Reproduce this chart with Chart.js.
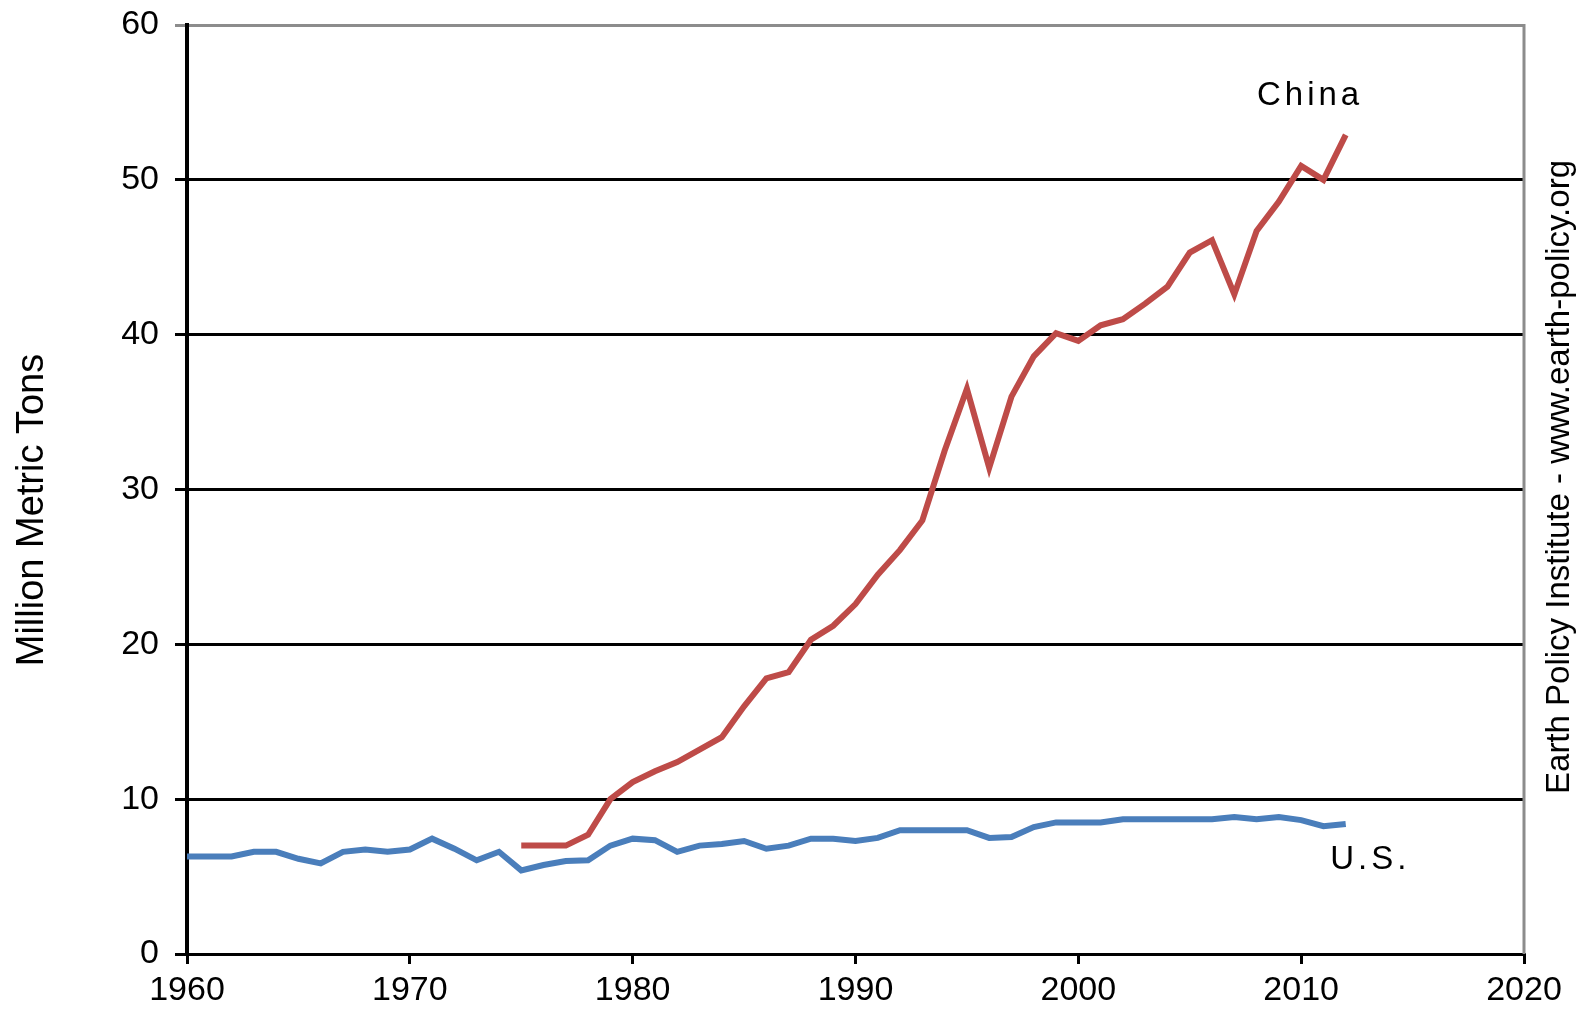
<!DOCTYPE html>
<html>
<head>
<meta charset="utf-8">
<script src="https://cdn.jsdelivr.net/npm/chart.js@4/dist/chart.umd.min.js"></script>
<style>
  html, body { margin: 0; padding: 0; background: #ffffff; }
  canvas { display: block; }
</style>
</head>
<body>
<canvas id="c" width="1583" height="1010"></canvas>
<script>
const usYears = [1960,1961,1962,1963,1964,1965,1966,1967,1968,1969,1970,1971,1972,1973,1974,1975,1976,1977,1978,1979,1980,1981,1982,1983,1984,1985,1986,1987,1988,1989,1990,1991,1992,1993,1994,1995,1996,1997,1998,1999,2000,2001,2002,2003,2004,2005,2006,2007,2008,2009,2010,2011,2012];
const usValues = [6.3,6.3,6.3,6.6,6.6,6.15,5.85,6.6,6.75,6.6,6.75,7.45,6.8,6.05,6.6,5.4,5.75,6.0,6.05,7.0,7.45,7.35,6.6,7.0,7.1,7.3,6.8,7.0,7.45,7.45,7.3,7.5,8.0,8.0,8.0,8.0,7.5,7.55,8.2,8.5,8.5,8.5,8.7,8.7,8.7,8.7,8.7,8.85,8.7,8.85,8.65,8.25,8.4];
const chinaYears = [1975,1976,1977,1978,1979,1980,1981,1982,1983,1984,1985,1986,1987,1988,1989,1990,1991,1992,1993,1994,1995,1996,1997,1998,1999,2000,2001,2002,2003,2004,2005,2006,2007,2008,2009,2010,2011,2012];
const chinaValues = [7.0,7.0,7.0,7.7,10.0,11.1,11.8,12.4,13.2,14.0,16.0,17.8,18.2,20.3,21.2,22.6,24.5,26.1,28.0,32.5,36.5,31.4,36.0,38.6,40.1,39.6,40.6,41.0,42.0,43.1,45.3,46.1,42.6,46.7,48.6,50.9,50.0,52.9];
const xTicks = [1960,1970,1980,1990,2000,2010,2020];
const yTicks = [0,10,20,30,40,50,60];
const seriesNames = ["China", "U.S."];
const yTitle = "Million Metric Tons";
const sourceText = "Earth Policy Institute - www.earth-policy.org";

const FONT = "'Liberation Sans', Arial, sans-serif";

const toPts = (xs, ys) => xs.map((x, i) => ({ x: x, y: ys[i] }));

const annotPlugin = {
  id: 'annot',
  afterDraw(chart) {
    const ctx = chart.ctx;
    const ca = chart.chartArea;
    const xs = chart.scales.x, ys = chart.scales.y;
    ctx.save();
    // right border (gray)
    ctx.strokeStyle = '#8c8c8c';
    ctx.lineWidth = 3;
    ctx.beginPath();
    ctx.moveTo(ca.right, ca.top - 1);
    ctx.lineTo(ca.right, ca.bottom);
    ctx.stroke();

    ctx.fillStyle = '#000000';
    ctx.textAlign = 'center';
    ctx.textBaseline = 'middle';
    // series labels
    try { ctx.letterSpacing = '4px'; } catch (e) {}
    ctx.font = '33px ' + FONT;
    ctx.fillText(seriesNames[0], xs.getPixelForValue(2010.4), ys.getPixelForValue(55.4));
    ctx.fillText(seriesNames[1], xs.getPixelForValue(2013.1), ys.getPixelForValue(6.1));
    try { ctx.letterSpacing = '0px'; } catch (e) {}

    // y title
    ctx.save();
    ctx.translate(33, 510);
    ctx.rotate(-Math.PI / 2);
    ctx.font = '38px ' + FONT;
    ctx.fillText(yTitle, 0, 0);
    ctx.restore();

    // source text
    ctx.save();
    ctx.translate(1560, 477);
    ctx.rotate(-Math.PI / 2);
    ctx.font = '33px ' + FONT;
    ctx.fillText(sourceText, 0, 0);
    ctx.restore();
    ctx.restore();
  }
};

new Chart(document.getElementById('c'), {
  type: 'line',
  data: {
    datasets: [
      {
        label: seriesNames[1],
        data: toPts(usYears, usValues),
        borderColor: '#4a7ebb',
        borderWidth: 6,
        pointRadius: 0,
        tension: 0,
        fill: false
      },
      {
        label: seriesNames[0],
        data: toPts(chinaYears, chinaValues),
        borderColor: '#be4b48',
        borderWidth: 6,
        pointRadius: 0,
        tension: 0,
        fill: false
      }
    ]
  },
  options: {
    responsive: false,
    animation: false,
    devicePixelRatio: 1,
    layout: { padding: { top: 25, right: 59, left: 0, bottom: 0 } },
    plugins: { legend: { display: false }, tooltip: { enabled: false } },
    scales: {
      x: {
        type: 'linear',
        min: 1960,
        max: 2020,
        afterFit(scale) { scale.height = 56; },
        afterBuildTicks(scale) { scale.ticks = xTicks.map(v => ({ value: v })); },
        ticks: {
          color: '#000000',
          font: { family: FONT, size: 34 },
          padding: 6,
          maxRotation: 0,
          autoSkip: false,
          callback: v => String(v)
        },
        grid: {
          display: true,
          drawOnChartArea: false,
          drawTicks: true,
          tickLength: 10,
          color: '#000000',
          lineWidth: 3
        },
        border: { display: true, color: '#000000', width: 3 }
      },
      y: {
        min: 0,
        max: 60,
        afterFit(scale) { scale.width = 187; scale.paddingTop = 0; scale.paddingBottom = 0; },
        afterBuildTicks(scale) { scale.ticks = yTicks.map(v => ({ value: v })); },
        ticks: {
          color: '#000000',
          font: { family: FONT, size: 34, lineHeight: 0.6 },
          padding: 16,
          autoSkip: false,
          callback: v => String(v)
        },
        grid: {
          drawTicks: true,
          tickLength: 12,
          color: ctx => (ctx.tick && ctx.tick.value === 60) ? '#8c8c8c' : '#000000',
          lineWidth: 3
        },
        border: { display: true, color: '#000000', width: 4 }
      }
    }
  },
  plugins: [annotPlugin]
});
</script>
</body>
</html>
